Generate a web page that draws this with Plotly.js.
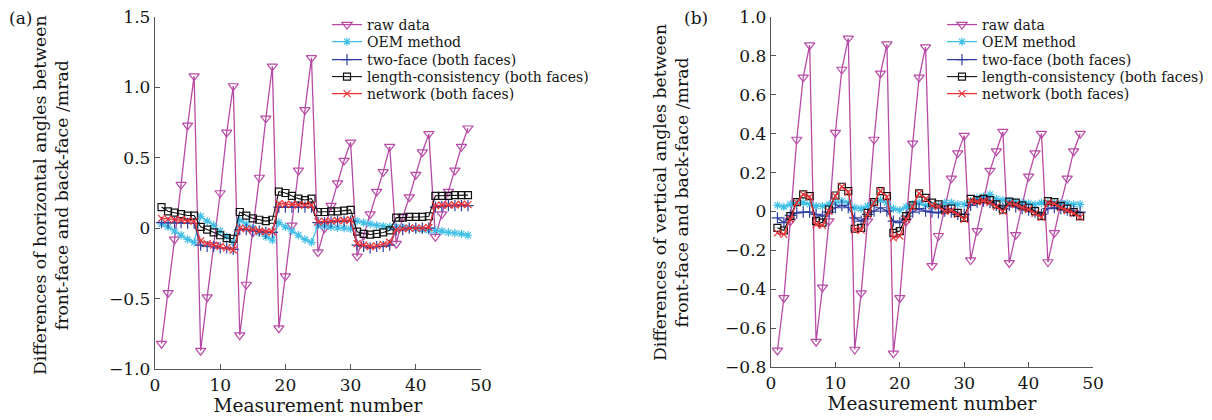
<!DOCTYPE html>
<html>
<head>
<meta charset="utf-8">
<script src="https://cdn.plot.ly/plotly-3.0.1.min.js"></script>
<style>html,body{margin:0;padding:0;background:#fff;overflow:hidden;}#chart{width:1212px;height:420px;}</style>
</head>
<body>
<div id="chart"></div>
<script>
// ---------- data ----------
const measurement = [1,2,3,4,5,6,7,8,9,10,11,12,13,14,15,16,17,18,19,20,21,22,23,24,25,26,27,28,29,30,31,32,33,34,35,36,37,38,39,40,41,42,43,44,45,46,47,48];

const seriesNames = ["raw data","OEM method","two-face (both faces)","length-consistency (both faces)","network (both faces)"];

// (a) horizontal angle differences
const rawA = [-0.82,-0.46,-0.08,0.31,0.73,1.08, -0.87,-0.49,-0.12,0.25,0.68,1.01, -0.76,-0.40,-0.03,0.36,0.78,1.15, -0.71,-0.34,0.02,0.41,0.84,1.21, -0.17,0.00,0.16,0.32,0.48,0.61, -0.20,-0.05,0.10,0.26,0.40,0.58, -0.11,0.08,0.22,0.38,0.54,0.67, -0.06,0.10,0.26,0.41,0.58,0.71];
const oemA = [0.03,0.01,-0.02,-0.05,-0.08,-0.10, 0.085,0.05,0.02,-0.02,-0.06,-0.10, 0.055,0.03,0.00,-0.03,-0.06,-0.085, 0.04,0.01,-0.02,-0.05,-0.08,-0.10, 0.02,0.015,0.01,0.005,0.00,-0.005, 0.05,0.04,0.03,0.02,0.015,0.01, 0.01,0.005,0.00,-0.005,-0.01,-0.015, -0.015,-0.02,-0.03,-0.035,-0.04,-0.05];
const twoA = [0.04,0.04,0.04,0.04,0.035,0.035, -0.12,-0.13,-0.13,-0.14,-0.14,-0.15, -0.01,-0.01,-0.02,-0.02,-0.03,-0.03, 0.15,0.15,0.15,0.15,0.15,0.15, 0.04,0.04,0.045,0.05,0.05,0.05, -0.12,-0.13,-0.14,-0.13,-0.13,-0.12, -0.01,-0.01,0.00,0.00,0.00,0.00, 0.15,0.155,0.16,0.16,0.16,0.16];
const lenA = [0.15,0.12,0.11,0.10,0.09,0.09, 0.01,-0.01,-0.03,-0.05,-0.07,-0.075, 0.115,0.09,0.07,0.06,0.05,0.06, 0.26,0.25,0.23,0.21,0.20,0.21, 0.115,0.115,0.12,0.12,0.125,0.13, -0.025,-0.04,-0.045,-0.04,-0.03,-0.015, 0.075,0.075,0.08,0.08,0.08,0.085, 0.23,0.23,0.23,0.235,0.235,0.235];
const netA = [0.07,0.065,0.06,0.06,0.055,0.05, -0.09,-0.11,-0.12,-0.13,-0.14,-0.155, 0.00,-0.005,-0.01,-0.02,-0.025,-0.025, 0.175,0.17,0.17,0.165,0.165,0.165, 0.045,0.05,0.05,0.055,0.055,0.06, -0.11,-0.12,-0.13,-0.125,-0.115,-0.10, -0.01,-0.005,0.00,0.00,0.00,0.005, 0.16,0.165,0.165,0.165,0.17,0.167];

// (b) vertical angle differences
const rawB = [-0.715,-0.445,-0.05,0.37,0.69,0.855, -0.67,-0.39,-0.05,0.405,0.73,0.89, -0.71,-0.42,-0.05,0.37,0.71,0.86, -0.73,-0.445,-0.05,0.35,0.69,0.845, -0.28,-0.125,0.03,0.17,0.30,0.39, -0.25,-0.10,0.06,0.21,0.31,0.41, -0.265,-0.12,0.03,0.18,0.30,0.40, -0.26,-0.11,0.04,0.17,0.31,0.40];
const oemB = [0.031,0.024,0.036,0.045,0.045,0.036, 0.027,0.027,0.036,0.045,0.053,0.045, 0.019,0.014,0.027,0.045,0.058,0.045, 0.014,0.007,0.024,0.036,0.045,0.031, 0.024,0.031,0.045,0.045,0.036,0.036, 0.053,0.070,0.076,0.088,0.065,0.058, 0.053,0.048,0.045,0.041,0.036,0.045, 0.045,0.045,0.041,0.041,0.036,0.036];
const twoB = [-0.033,-0.058,-0.020,-0.007,-0.003,-0.003, -0.015,-0.024,-0.003,0.019,0.031,0.019, -0.033,-0.050,-0.015,0.002,0.019,0.002, -0.050,-0.058,-0.024,-0.003,0.014,0.002, -0.003,-0.007,0.002,-0.003,-0.015,-0.015, 0.031,0.048,0.053,0.045,0.031,0.014, 0.031,0.024,0.014,0.007,-0.003,-0.015, 0.014,0.019,0.014,0.007,0.002,-0.003];
const lenB = [-0.084,-0.098,-0.024,0.048,0.088,0.079, -0.050,-0.058,0.010,0.082,0.127,0.105, -0.089,-0.084,-0.007,0.048,0.105,0.079, -0.110,-0.101,-0.024,0.031,0.093,0.070, 0.045,0.036,0.010,0.014,-0.007,-0.033, 0.065,0.058,0.065,0.058,0.036,0.010, 0.050,0.045,0.031,0.019,0.002,-0.024, 0.053,0.048,0.027,0.014,-0.003,-0.024];
const netB = [-0.110,-0.118,-0.040,0.045,0.088,0.075, -0.067,-0.072,0.000,0.079,0.127,0.100, -0.096,-0.096,-0.015,0.045,0.105,0.075, -0.136,-0.127,-0.040,0.025,0.093,0.065, 0.030,0.025,0.000,0.005,-0.015,-0.040, 0.055,0.050,0.055,0.045,0.025,0.000, 0.040,0.035,0.020,0.010,-0.010,-0.030, 0.045,0.040,0.020,0.005,-0.010,-0.030];

const xTicks = [0,10,20,30,40,50];
const yTicksA = [-1.0,-0.5,0,0.5,1.0,1.5];
const yTickTextA = ["\u22121.0","\u22120.5","0","0.5","1.0","1.5"];
const yTicksB = [-0.8,-0.6,-0.4,-0.2,0,0.2,0.4,0.6,0.8,1.0];
const yTickTextB = ["\u22120.8","\u22120.6","\u22120.4","\u22120.2","0","0.2","0.4","0.6","0.8","1.0"];

// ---------- styles ----------
const FONT = "DejaVu Serif, Liberation Serif, serif";
const TXT = "#151515";
const styles = [
  {color:"#B84AA6", symbol:"triangle-down-open", size:9, lw:1.3},
  {color:"#40BFE6", symbol:"asterisk-open", size:7, lw:1.3},
  {color:"#2F3FA0", symbol:"cross-thin-open", size:8, lw:1.3},
  {color:"#111111", symbol:"square-open", size:7, lw:1.1},
  {color:"#EC3338", symbol:"x-thin-open", size:7, lw:1.3}
];

const seriesA = [rawA, oemA, twoA, lenA, netA];
const seriesB = [rawB, oemB, twoB, lenB, netB];
const traces = [];
function addPanel(series, xa, ya, legendOffset){
  [0,1,2,3,4].forEach(i=>{
    const s = styles[i];
    const n = legendOffset + i;
    traces.push({
      type:"scatter", mode:"lines+markers",
      x: measurement, y: series[i],
      xaxis: xa, yaxis: ya,
      name: seriesNames[i],
      legend: n === 1 ? "legend" : "legend" + n,
      line:{color:s.color, width:s.lw},
      marker:{symbol:s.symbol, size:s.size, color:s.color, line:{color:s.color, width:1.2}},
      hoverinfo:"x+y"
    });
  });
}
addPanel(seriesA, "x", "y", 1);
addPanel(seriesB, "x2", "y2", 6);

// ---------- layout ----------
const W = 1212, H = 420;
const px = v => v / W;
const py = v => (H - v) / H;

const axisCommon = {
  showgrid:false, zeroline:false, showline:true, linecolor:"#555", linewidth:1.2,
  ticks:"inside", ticklen:5, tickcolor:"#555", tickwidth:1.2,
  tickfont:{family:FONT, size:17, color:TXT}, automargin:false, mirror:false
};
const xTitle = {text:"Measurement number", font:{family:FONT, size:18.5, color:TXT}, standoff:5};

const layout = {
  width:W, height:H,
  margin:{l:0, r:0, t:0, b:0, pad:0},
  paper_bgcolor:"#fff", plot_bgcolor:"#fff",
  showlegend:true,
  font:{family:FONT, color:TXT},
  xaxis: Object.assign({}, axisCommon, {domain:[px(155), px(481)], range:[0,50], tickvals:xTicks, anchor:"y", title:xTitle}),
  yaxis: Object.assign({}, axisCommon, {domain:[py(369), py(17)], range:[-1.0,1.5], tickvals:yTicksA, ticktext:yTickTextA, anchor:"x"}),
  xaxis2: Object.assign({}, axisCommon, {domain:[px(771), px(1093)], range:[0,50], tickvals:xTicks, anchor:"y2", title:xTitle}),
  yaxis2: Object.assign({}, axisCommon, {domain:[py(367), py(17)], range:[-0.8,1.0], tickvals:yTicksB, ticktext:yTickTextB, anchor:"x2"}),
  annotations:[
    {text:"(a)", xref:"paper", yref:"paper", x:px(7), y:py(18), xanchor:"left", yanchor:"middle", showarrow:false, font:{family:FONT, size:17, color:TXT}},
    {text:"(b)", xref:"paper", yref:"paper", x:px(682), y:py(18), xanchor:"left", yanchor:"middle", showarrow:false, font:{family:FONT, size:17, color:TXT}},
    {text:"Differences of horizontal angles between<br>front-face and back-face /mrad", xref:"paper", yref:"paper", x:px(51), y:py(195), xanchor:"center", yanchor:"middle", textangle:-90, showarrow:false, font:{family:FONT, size:17.3, color:TXT}},
    {text:"Differences of vertical angles between<br>front-face and back-face /mrad", xref:"paper", yref:"paper", x:px(671), y:py(193), xanchor:"center", yanchor:"middle", textangle:-90, showarrow:false, font:{family:FONT, size:17.3, color:TXT}}
  ]
};

// one legend per entry so the rows sit at the reference spacing
const legendRowsY = [25, 42, 60, 77, 94];
const legendX = [327, 942];
for (let p = 0; p < 2; p++) {
  for (let i = 0; i < 5; i++) {
    const n = p*5 + i + 1;
    const key = n === 1 ? "legend" : "legend" + n;
    layout[key] = {
      x: px(legendX[p]), y: py(legendRowsY[i]), xanchor:"left", yanchor:"middle",
      xref:"paper", yref:"paper",
      bgcolor:"rgba(0,0,0,0)", borderwidth:0,
      font:{family:FONT, size:14, color:TXT},
      itemwidth:30, tracegroupgap:0
    };
  }
}

Plotly.newPlot("chart", traces, layout, {displayModeBar:false, staticPlot:true});
</script>
</body>
</html>
